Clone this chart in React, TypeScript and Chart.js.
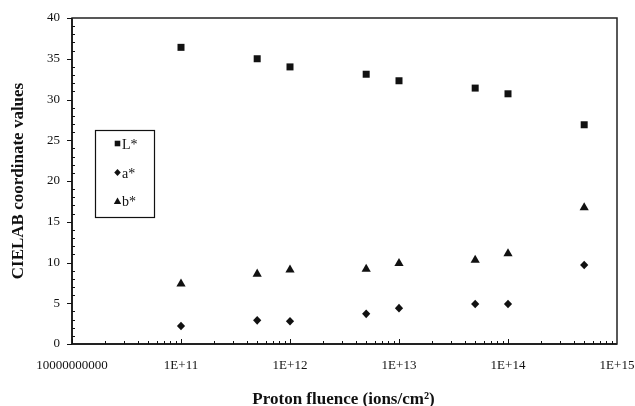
import React, { useEffect, useRef } from "react";
import { Chart, registerables } from "chart.js";

Chart.register(...registerables);

const fluence = [1e11, 5e11, 1e12, 5e12, 1e13, 5e13, 1e14, 5e14];
const Lstar = [36.4, 35.0, 34.0, 33.1, 32.3, 31.4, 30.7, 26.9];
const astar = [2.2, 2.9, 2.8, 3.7, 4.4, 4.9, 4.9, 9.7];
const bstar = [7.5, 8.7, 9.2, 9.3, 10.0, 10.4, 11.2, 16.85];
const xTickValues = [1e10, 1e11, 1e12, 1e13, 1e14, 1e15];
const xTickLabels = ["10000000000", "1E+11", "1E+12", "1E+13", "1E+14", "1E+15"];
const seriesNames = ["L*", "a*", "b*"];
const xTitle = "Proton fluence (ions/cm\u00B2)";
const yTitle = "CIELAB coordinate values";

const INK = "#111";
const SERIF = "'Liberation Serif', 'Times New Roman', serif";

function drawMarker(ctx: CanvasRenderingContext2D, kind: string, x: number, y: number, s = 1) {
  ctx.beginPath();
  if (kind === "rect") {
    ctx.rect(x - 3.5 * s, y - 3.5 * s, 7 * s, 7 * s);
  } else if (kind === "diamond") {
    ctx.moveTo(x, y - 4.3 * s);
    ctx.lineTo(x + 4.1 * s, y);
    ctx.lineTo(x, y + 4.3 * s);
    ctx.lineTo(x - 4.1 * s, y);
    ctx.closePath();
  } else {
    ctx.moveTo(x, y - 4.5 * s);
    ctx.lineTo(x + 4.6 * s, y + 3.6 * s);
    ctx.lineTo(x - 4.6 * s, y + 3.6 * s);
    ctx.closePath();
  }
  ctx.fill();
}

const decorPlugin = {
  id: "decor",
  afterDraw(chart: any) {
    const ctx = chart.ctx as CanvasRenderingContext2D;
    const { left, right, top, bottom } = chart.chartArea;
    const xs = chart.scales.x;
    const ys = chart.scales.y;
    ctx.save();
    // frame
    ctx.strokeStyle = "#222";
    ctx.lineWidth = 1.5;
    ctx.strokeRect(left, top, right - left, bottom - top);
    ctx.lineWidth = 2;
    ctx.beginPath();
    ctx.moveTo(left, top);
    ctx.lineTo(left, bottom);
    ctx.lineTo(right, bottom);
    ctx.stroke();
    // y ticks
    ctx.lineWidth = 1;
    ctx.strokeStyle = INK;
    ctx.beginPath();
    for (let v = 0; v <= 40; v += 1) {
      const py = Math.round(ys.getPixelForValue(v)) + 0.5;
      if (v % 5 === 0) {
        ctx.moveTo(left - 5, py);
        ctx.lineTo(left, py);
      } else {
        ctx.moveTo(left, py);
        ctx.lineTo(left + 3, py);
      }
    }
    // x ticks
    for (let d = 10; d < 15; d++) {
      for (let m = 1; m <= 9; m++) {
        const v = m * Math.pow(10, d);
        const px = Math.round(xs.getPixelForValue(v)) + 0.5;
        const len = m === 1 ? 5 : 3;
        ctx.moveTo(px, bottom);
        ctx.lineTo(px, bottom - len);
      }
    }
    ctx.stroke();
    // x title
    ctx.fillStyle = INK;
    ctx.font = "bold 17px " + SERIF;
    ctx.textAlign = "center";
    ctx.textBaseline = "alphabetic";
    ctx.fillText(xTitle, (left + right) / 2 - 1, 404);
    // y title
    ctx.translate(19, (top + bottom) / 2);
    ctx.rotate(-Math.PI / 2);
    ctx.textAlign = "center";
    ctx.textBaseline = "middle";
    ctx.fillText(yTitle, 0, 0);
    ctx.restore();

    // legend
    ctx.save();
    ctx.strokeStyle = INK;
    ctx.lineWidth = 1.2;
    ctx.strokeRect(95.5, 130.5, 59, 87);
    ctx.fillStyle = INK;
    ctx.font = "14px " + SERIF;
    ctx.textBaseline = "alphabetic";
    ctx.textAlign = "left";
    const kinds = ["rect", "diamond", "triangle"];
    const ly = [143.5, 172.5, 201];
    seriesNames.forEach((n, i) => {
      drawMarker(ctx, kinds[i], 117.5, ly[i], 0.8);
      ctx.fillText(n, 122, ly[i] + 5);
    });
    ctx.restore();
  },
};

const markerPlugin = {
  id: "markers",
  afterDatasetsDraw(chart: any) {
    const ctx = chart.ctx as CanvasRenderingContext2D;
    const kinds = ["rect", "diamond", "triangle"];
    ctx.save();
    ctx.fillStyle = INK;
    chart.data.datasets.forEach((ds: any, i: number) => {
      const meta = chart.getDatasetMeta(i);
      meta.data.forEach((el: any) => drawMarker(ctx, kinds[i], el.x, el.y));
    });
    ctx.restore();
  },
};

export default function App() {
  const ref = useRef<HTMLCanvasElement>(null);
  useEffect(() => {
    document.body.style.margin = "0";
    const mk = (vals: number[], label: string) => ({
      label,
      data: fluence.map((x, i) => ({ x, y: vals[i] })),
      pointRadius: 0,
      showLine: false,
      backgroundColor: INK,
      borderColor: INK,
    });
    const chart = new Chart(ref.current!, {
      type: "scatter",
      data: {
        datasets: [mk(Lstar, seriesNames[0]), mk(astar, seriesNames[1]), mk(bstar, seriesNames[2])],
      },
      options: {
        responsive: false,
        animation: false,
        layout: { padding: { top: 18, right: 18, left: 0, bottom: 0 } },
        plugins: {
          legend: { display: false },
          tooltip: { enabled: false },
          title: { display: false },
        },
        scales: {
          x: {
            type: "logarithmic",
            min: 1e10,
            max: 1e15,
            grid: { display: false },
            border: { display: false },
            afterBuildTicks: (s: any) => {
              s.ticks = xTickValues.map((v) => ({ value: v }));
            },
            afterFit: (s: any) => {
              s.height = 62;
              s.paddingLeft = 0;
              s.paddingRight = 0;
            },
            ticks: {
              autoSkip: false,
              maxRotation: 0,
              padding: 6,
              color: INK,
              font: { family: SERIF, size: 13 },
              callback: (v: any) => {
                const i = xTickValues.indexOf(Number(v));
                return i >= 0 ? xTickLabels[i] : "";
              },
            },
          },
          y: {
            min: 0,
            max: 40,
            grid: { display: false },
            border: { display: false },
            afterFit: (s: any) => {
              s.width = 72;
              s.paddingTop = 0;
              s.paddingBottom = 0;
            },
            ticks: {
              stepSize: 5,
              padding: 4,
              color: INK,
              font: { family: SERIF, size: 13 },
            },
          },
        },
      },
      plugins: [markerPlugin, decorPlugin],
    } as any);
    return () => chart.destroy();
  }, []);
  return (
    <div style={{ width: 635, height: 406, background: "#fff" }}>
      <canvas ref={ref} width={635} height={406} />
    </div>
  );
}
